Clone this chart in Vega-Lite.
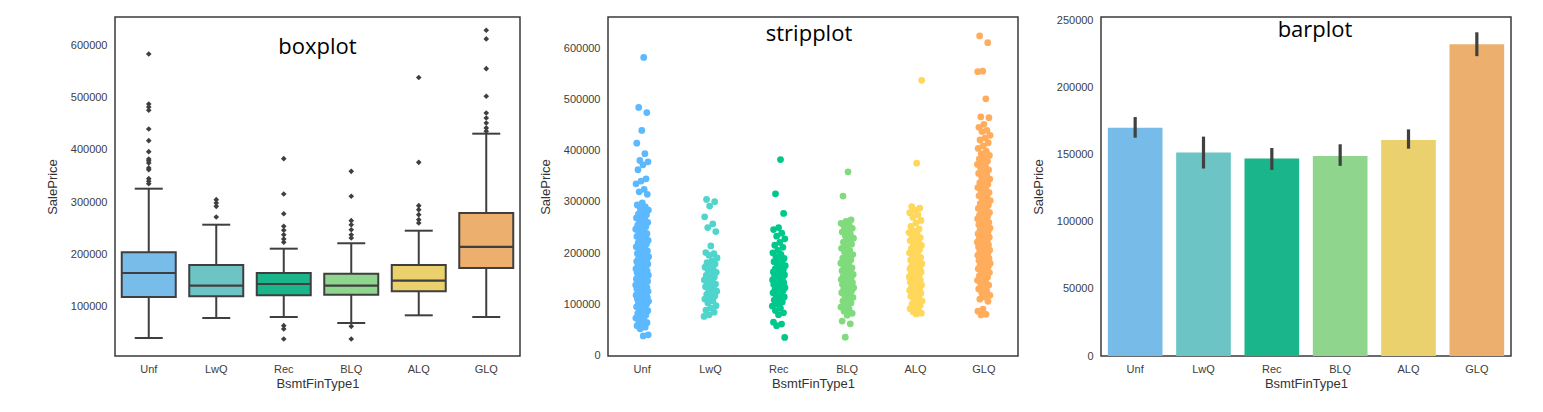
{
"$schema": "https://vega.github.io/schema/vega-lite/v6.json",
"background": "white",
"padding": {"left": 45, "top": 14, "right": 5, "bottom": 5},
"config": {
  "view": {"stroke": "#3a3a3a", "strokeWidth": 1.5},
  "axis": {"grid": false, "ticks": false, "domain": false, "labelFont": "Liberation Sans", "labelFontSize": 11, "labelColor": "#3d3d3d", "titleFont": "Liberation Sans", "titleFontSize": 13, "titleFontWeight": "normal", "titleColor": "#333333", "labelPadding": 8},
  "axisY": {"minExtent": 45, "maxExtent": 45, "titlePadding": 11},
  "axisX": {"labelAngle": 0, "labelPadding": 7, "titlePadding": 3},
  "title": {"font": "Open Sans", "fontSize": 22, "fontWeight": "normal", "color": "#000000", "baseline": "alphabetic", "anchor": "middle"},
  "legend": {"disable": true}
},
"datasets": {
  "box": [
    {"t":"Unf","lo":39300,"q1":117900,"med":164000,"q3":203700,"hi":325700},
    {"t":"LwQ","lo":77600,"q1":119300,"med":139600,"q3":179300,"hi":256600},
    {"t":"Rec","lo":79600,"q1":121200,"med":142900,"q3":164000,"hi":210600},
    {"t":"BLQ","lo":68100,"q1":122300,"med":139600,"q3":162700,"hi":221000},
    {"t":"ALQ","lo":82800,"q1":128900,"med":149200,"q3":179300,"hi":245100},
    {"t":"GLQ","lo":79600,"q1":173500,"med":213900,"q3":279100,"hi":431200}
  ],
  "out": [
    {"t":"Unf","p":584100},{"t":"Unf","p":488200},{"t":"Unf","p":482400},{"t":"Unf","p":476100},{"t":"Unf","p":440200},{"t":"Unf","p":417800},{"t":"Unf","p":396700},{"t":"Unf","p":382700},{"t":"Unf","p":379400},{"t":"Unf","p":375000},{"t":"Unf","p":365500},{"t":"Unf","p":362100},{"t":"Unf","p":344900},{"t":"Unf","p":339900},{"t":"Unf","p":335300},
    {"t":"LwQ","p":304600},{"t":"LwQ","p":298300},{"t":"LwQ","p":291900},{"t":"LwQ","p":271400},
    {"t":"Rec","p":383200},{"t":"Rec","p":315500},{"t":"Rec","p":277700},{"t":"Rec","p":253600},{"t":"Rec","p":245900},{"t":"Rec","p":237400},{"t":"Rec","p":229200},{"t":"Rec","p":222900},{"t":"Rec","p":62900},{"t":"Rec","p":56500},{"t":"Rec","p":37300},
    {"t":"BLQ","p":359000},{"t":"BLQ","p":311100},{"t":"BLQ","p":264300},{"t":"BLQ","p":256600},{"t":"BLQ","p":247000},{"t":"BLQ","p":237400},{"t":"BLQ","p":231100},{"t":"BLQ","p":61700},{"t":"BLQ","p":37300},
    {"t":"ALQ","p":539000},{"t":"ALQ","p":376300},{"t":"ALQ","p":293100},{"t":"ALQ","p":285400},{"t":"ALQ","p":275800},{"t":"ALQ","p":266200},{"t":"ALQ","p":259900},
    {"t":"GLQ","p":629500},{"t":"GLQ","p":612900},{"t":"GLQ","p":555900},{"t":"GLQ","p":502900},{"t":"GLQ","p":470900},{"t":"GLQ","p":461300},{"t":"GLQ","p":451700},{"t":"GLQ","p":442300},{"t":"GLQ","p":436000}
  ],
  "bars": [
    {"t":"Unf","mean":170300,"lo":162800,"hi":178200},
    {"t":"LwQ","mean":151700,"lo":139800,"hi":163600},
    {"t":"Rec","mean":147200,"lo":138800,"hi":155100},
    {"t":"BLQ","mean":149200,"lo":141800,"hi":157900},
    {"t":"ALQ","mean":161100,"lo":154600,"hi":169000},
    {"t":"GLQ","mean":232500,"lo":223600,"hi":241400}
  ],
  "strip": [
    {"t":"Unf","p":582933},{"t":"Unf","p":485000},{"t":"Unf","p":475000},{"t":"Unf","p":440000},{"t":"Unf","p":415000},{"t":"Unf","p":394500},{"t":"Unf","p":381200},{"t":"Unf","p":378500},{"t":"Unf","p":372800},{"t":"Unf","p":363100},{"t":"Unf","p":345400},{"t":"Unf","p":340900},{"t":"Unf","p":335600},{"t":"Unf","p":324700},{"t":"Unf","p":319800},{"t":"Unf","p":314900},
    {"t":"Unf","p":298300},{"t":"Unf","p":294100},{"t":"Unf","p":290600},{"t":"Unf","p":286900},{"t":"Unf","p":284200},{"t":"Unf","p":279800},{"t":"Unf","p":276400},{"t":"Unf","p":274900},{"t":"Unf","p":271100},{"t":"Unf","p":268700},{"t":"Unf","p":266300},{"t":"Unf","p":262400},{"t":"Unf","p":259900},{"t":"Unf","p":256800},{"t":"Unf","p":254500},{"t":"Unf","p":251300},{"t":"Unf","p":249800},
    {"t":"Unf","p":246700},{"t":"Unf","p":243200},{"t":"Unf","p":240400},{"t":"Unf","p":237900},{"t":"Unf","p":235100},{"t":"Unf","p":232600},{"t":"Unf","p":229700},{"t":"Unf","p":227300},{"t":"Unf","p":224600},{"t":"Unf","p":222900},{"t":"Unf","p":219800},{"t":"Unf","p":217200},{"t":"Unf","p":214600},{"t":"Unf","p":212300},{"t":"Unf","p":209900},{"t":"Unf","p":206800},{"t":"Unf","p":204100},{"t":"Unf","p":201700},{"t":"Unf","p":199200},
    {"t":"Unf","p":197400},{"t":"Unf","p":195300},{"t":"Unf","p":192800},{"t":"Unf","p":191200},{"t":"Unf","p":189700},{"t":"Unf","p":187100},{"t":"Unf","p":185800},{"t":"Unf","p":183600},{"t":"Unf","p":181900},{"t":"Unf","p":180300},{"t":"Unf","p":178400},{"t":"Unf","p":176900},{"t":"Unf","p":174600},{"t":"Unf","p":173200},{"t":"Unf","p":171800},{"t":"Unf","p":169300},{"t":"Unf","p":167900},{"t":"Unf","p":166100},{"t":"Unf","p":164700},{"t":"Unf","p":162800},{"t":"Unf","p":161400},{"t":"Unf","p":159600},{"t":"Unf","p":158200},{"t":"Unf","p":156700},{"t":"Unf","p":155300},{"t":"Unf","p":153900},{"t":"Unf","p":152100},{"t":"Unf","p":150800},{"t":"Unf","p":149400},{"t":"Unf","p":147700},
    {"t":"Unf","p":146200},{"t":"Unf","p":144900},{"t":"Unf","p":143300},{"t":"Unf","p":141800},{"t":"Unf","p":140600},{"t":"Unf","p":139100},{"t":"Unf","p":137400},{"t":"Unf","p":135800},{"t":"Unf","p":134600},{"t":"Unf","p":132900},{"t":"Unf","p":131200},{"t":"Unf","p":129800},{"t":"Unf","p":128300},{"t":"Unf","p":126900},{"t":"Unf","p":125100},{"t":"Unf","p":123700},{"t":"Unf","p":122400},{"t":"Unf","p":120800},{"t":"Unf","p":119300},{"t":"Unf","p":117600},{"t":"Unf","p":116200},{"t":"Unf","p":114900},{"t":"Unf","p":113400},{"t":"Unf","p":111800},{"t":"Unf","p":110300},{"t":"Unf","p":108900},{"t":"Unf","p":107200},{"t":"Unf","p":105600},{"t":"Unf","p":103800},{"t":"Unf","p":101900},{"t":"Unf","p":99800},
    {"t":"Unf","p":97300},{"t":"Unf","p":94800},{"t":"Unf","p":92600},{"t":"Unf","p":89900},{"t":"Unf","p":87200},{"t":"Unf","p":84600},{"t":"Unf","p":81800},{"t":"Unf","p":78900},{"t":"Unf","p":75700},{"t":"Unf","p":72800},{"t":"Unf","p":69900},{"t":"Unf","p":66800},{"t":"Unf","p":63900},{"t":"Unf","p":60700},{"t":"Unf","p":57800},{"t":"Unf","p":54900},{"t":"Unf","p":51700},{"t":"Unf","p":40000},{"t":"Unf","p":37900},
    {"t":"LwQ","p":305000},{"t":"LwQ","p":300500},{"t":"LwQ","p":292000},{"t":"LwQ","p":271000},{"t":"LwQ","p":257000},{"t":"LwQ","p":250000},{"t":"LwQ","p":242000},{"t":"LwQ","p":214000},{"t":"LwQ","p":201000},{"t":"LwQ","p":198700},{"t":"LwQ","p":195800},{"t":"LwQ","p":190400},{"t":"LwQ","p":185300},{"t":"LwQ","p":181200},{"t":"LwQ","p":178600},{"t":"LwQ","p":175100},{"t":"LwQ","p":172300},{"t":"LwQ","p":168500},{"t":"LwQ","p":165200},{"t":"LwQ","p":162400},{"t":"LwQ","p":159100},{"t":"LwQ","p":156300},{"t":"LwQ","p":153400},{"t":"LwQ","p":150200},{"t":"LwQ","p":147500},{"t":"LwQ","p":145100},{"t":"LwQ","p":142300},{"t":"LwQ","p":139400},{"t":"LwQ","p":136500},{"t":"LwQ","p":134200},{"t":"LwQ","p":131100},{"t":"LwQ","p":128300},{"t":"LwQ","p":125500},{"t":"LwQ","p":122100},{"t":"LwQ","p":119400},{"t":"LwQ","p":116200},{"t":"LwQ","p":113300},{"t":"LwQ","p":110100},{"t":"LwQ","p":106400},{"t":"LwQ","p":102300},{"t":"LwQ","p":97100},{"t":"LwQ","p":92400},{"t":"LwQ","p":88200},{"t":"LwQ","p":84300},{"t":"LwQ","p":79200},{"t":"LwQ","p":76000},
    {"t":"Rec","p":383000},{"t":"Rec","p":316000},{"t":"Rec","p":277500},{"t":"Rec","p":250000},{"t":"Rec","p":246000},{"t":"Rec","p":239000},{"t":"Rec","p":233000},{"t":"Rec","p":228000},{"t":"Rec","p":221000},{"t":"Rec","p":215300},{"t":"Rec","p":211200},{"t":"Rec","p":205400},{"t":"Rec","p":200500},{"t":"Rec","p":197300},{"t":"Rec","p":193100},{"t":"Rec","p":189400},{"t":"Rec","p":186200},{"t":"Rec","p":183100},{"t":"Rec","p":180400},{"t":"Rec","p":177500},{"t":"Rec","p":175200},{"t":"Rec","p":172100},{"t":"Rec","p":169300},{"t":"Rec","p":167400},{"t":"Rec","p":165100},{"t":"Rec","p":163200},{"t":"Rec","p":161300},{"t":"Rec","p":159400},{"t":"Rec","p":157200},{"t":"Rec","p":155100},{"t":"Rec","p":153300},{"t":"Rec","p":151200},{"t":"Rec","p":149100},{"t":"Rec","p":147300},{"t":"Rec","p":145400},{"t":"Rec","p":143500},{"t":"Rec","p":142100},{"t":"Rec","p":140200},{"t":"Rec","p":138300},{"t":"Rec","p":136100},{"t":"Rec","p":134400},{"t":"Rec","p":132200},{"t":"Rec","p":130300},{"t":"Rec","p":128100},{"t":"Rec","p":126400},{"t":"Rec","p":124200},{"t":"Rec","p":122300},{"t":"Rec","p":120100},{"t":"Rec","p":117400},{"t":"Rec","p":114200},{"t":"Rec","p":111300},{"t":"Rec","p":108100},{"t":"Rec","p":104400},{"t":"Rec","p":100200},{"t":"Rec","p":96300},{"t":"Rec","p":92100},{"t":"Rec","p":87400},{"t":"Rec","p":83200},{"t":"Rec","p":79400},{"t":"Rec","p":64800},{"t":"Rec","p":61000},{"t":"Rec","p":58000},{"t":"Rec","p":35000},
    {"t":"BLQ","p":359000},{"t":"BLQ","p":311500},{"t":"BLQ","p":265000},{"t":"BLQ","p":262100},{"t":"BLQ","p":258300},{"t":"BLQ","p":255200},{"t":"BLQ","p":252400},{"t":"BLQ","p":248500},{"t":"BLQ","p":245100},{"t":"BLQ","p":241300},{"t":"BLQ","p":237200},{"t":"BLQ","p":233400},{"t":"BLQ","p":229100},{"t":"BLQ","p":225300},{"t":"BLQ","p":221200},{"t":"BLQ","p":217400},{"t":"BLQ","p":213100},{"t":"BLQ","p":209300},{"t":"BLQ","p":205200},{"t":"BLQ","p":201400},{"t":"BLQ","p":197100},{"t":"BLQ","p":193500},{"t":"BLQ","p":190200},{"t":"BLQ","p":186400},{"t":"BLQ","p":183100},{"t":"BLQ","p":180300},{"t":"BLQ","p":177200},{"t":"BLQ","p":174400},{"t":"BLQ","p":171100},{"t":"BLQ","p":168300},{"t":"BLQ","p":165200},{"t":"BLQ","p":162400},{"t":"BLQ","p":160100},{"t":"BLQ","p":158300},{"t":"BLQ","p":156200},{"t":"BLQ","p":154400},{"t":"BLQ","p":152100},{"t":"BLQ","p":150300},{"t":"BLQ","p":148200},{"t":"BLQ","p":146400},{"t":"BLQ","p":144100},{"t":"BLQ","p":142300},{"t":"BLQ","p":140200},{"t":"BLQ","p":138400},{"t":"BLQ","p":136100},{"t":"BLQ","p":134300},{"t":"BLQ","p":132200},{"t":"BLQ","p":130400},{"t":"BLQ","p":128100},{"t":"BLQ","p":126300},{"t":"BLQ","p":124200},{"t":"BLQ","p":122400},{"t":"BLQ","p":119100},{"t":"BLQ","p":116300},{"t":"BLQ","p":113200},{"t":"BLQ","p":110400},{"t":"BLQ","p":106100},{"t":"BLQ","p":102300},{"t":"BLQ","p":98200},{"t":"BLQ","p":94400},{"t":"BLQ","p":90100},{"t":"BLQ","p":86300},{"t":"BLQ","p":82200},{"t":"BLQ","p":78400},{"t":"BLQ","p":67000},{"t":"BLQ","p":61500},{"t":"BLQ","p":35500},
    {"t":"ALQ","p":538000},{"t":"ALQ","p":376000},{"t":"ALQ","p":291000},{"t":"ALQ","p":288000},{"t":"ALQ","p":284000},{"t":"ALQ","p":279000},{"t":"ALQ","p":275000},{"t":"ALQ","p":270000},{"t":"ALQ","p":264000},{"t":"ALQ","p":259000},{"t":"ALQ","p":252000},{"t":"ALQ","p":247300},{"t":"ALQ","p":243100},{"t":"ALQ","p":240200},{"t":"ALQ","p":236400},{"t":"ALQ","p":233100},{"t":"ALQ","p":230300},{"t":"ALQ","p":227200},{"t":"ALQ","p":224400},{"t":"ALQ","p":221100},{"t":"ALQ","p":218300},{"t":"ALQ","p":215200},{"t":"ALQ","p":212400},{"t":"ALQ","p":209100},{"t":"ALQ","p":206300},{"t":"ALQ","p":203200},{"t":"ALQ","p":200400},{"t":"ALQ","p":197100},{"t":"ALQ","p":194300},{"t":"ALQ","p":191500},{"t":"ALQ","p":189200},{"t":"ALQ","p":186500},{"t":"ALQ","p":184100},{"t":"ALQ","p":181500},{"t":"ALQ","p":179200},{"t":"ALQ","p":177400},{"t":"ALQ","p":175100},{"t":"ALQ","p":173300},{"t":"ALQ","p":171200},{"t":"ALQ","p":169400},{"t":"ALQ","p":167100},{"t":"ALQ","p":165300},{"t":"ALQ","p":163200},{"t":"ALQ","p":161400},{"t":"ALQ","p":159100},{"t":"ALQ","p":157300},{"t":"ALQ","p":155200},{"t":"ALQ","p":153400},{"t":"ALQ","p":151100},{"t":"ALQ","p":149300},{"t":"ALQ","p":147200},{"t":"ALQ","p":145400},{"t":"ALQ","p":143100},{"t":"ALQ","p":141300},{"t":"ALQ","p":139200},{"t":"ALQ","p":137400},{"t":"ALQ","p":135100},{"t":"ALQ","p":133300},{"t":"ALQ","p":131200},{"t":"ALQ","p":129400},{"t":"ALQ","p":127100},{"t":"ALQ","p":125300},{"t":"ALQ","p":123200},{"t":"ALQ","p":121400},{"t":"ALQ","p":118100},{"t":"ALQ","p":115300},{"t":"ALQ","p":112200},{"t":"ALQ","p":109400},{"t":"ALQ","p":106100},{"t":"ALQ","p":103300},{"t":"ALQ","p":100200},{"t":"ALQ","p":97400},{"t":"ALQ","p":94100},{"t":"ALQ","p":91300},{"t":"ALQ","p":88200},{"t":"ALQ","p":85400},{"t":"ALQ","p":82500},{"t":"ALQ","p":81000},
    {"t":"GLQ","p":625000},{"t":"GLQ","p":611700},{"t":"GLQ","p":556000},{"t":"GLQ","p":555000},{"t":"GLQ","p":501800},{"t":"GLQ","p":466500},{"t":"GLQ","p":465000},{"t":"GLQ","p":451900},{"t":"GLQ","p":446200},{"t":"GLQ","p":440100},{"t":"GLQ","p":437800},{"t":"GLQ","p":430500},{"t":"GLQ","p":425600},{"t":"GLQ","p":421300},{"t":"GLQ","p":415900},{"t":"GLQ","p":409700},{"t":"GLQ","p":404800},{"t":"GLQ","p":399600},{"t":"GLQ","p":394700},{"t":"GLQ","p":391200},{"t":"GLQ","p":387500},{"t":"GLQ","p":384300},{"t":"GLQ","p":379800},{"t":"GLQ","p":376900},{"t":"GLQ","p":373400},{"t":"GLQ","p":369800},{"t":"GLQ","p":366700},{"t":"GLQ","p":362900},{"t":"GLQ","p":359400},{"t":"GLQ","p":355800},{"t":"GLQ","p":352600},{"t":"GLQ","p":348300},{"t":"GLQ","p":344900},{"t":"GLQ","p":341600},{"t":"GLQ","p":337800},{"t":"GLQ","p":334700},{"t":"GLQ","p":331900},{"t":"GLQ","p":328200},{"t":"GLQ","p":324700},{"t":"GLQ","p":321800},{"t":"GLQ","p":318400},{"t":"GLQ","p":315300},{"t":"GLQ","p":312100},{"t":"GLQ","p":308900},{"t":"GLQ","p":305700},{"t":"GLQ","p":302800},{"t":"GLQ","p":299700},{"t":"GLQ","p":296900},{"t":"GLQ","p":293800},{"t":"GLQ","p":290600},{"t":"GLQ","p":287400},{"t":"GLQ","p":284900},{"t":"GLQ","p":281700},{"t":"GLQ","p":279300},{"t":"GLQ","p":276800},{"t":"GLQ","p":274200},{"t":"GLQ","p":271900},{"t":"GLQ","p":269600},{"t":"GLQ","p":267100},{"t":"GLQ","p":264800},{"t":"GLQ","p":262300},{"t":"GLQ","p":260100},{"t":"GLQ","p":257900},{"t":"GLQ","p":255400},{"t":"GLQ","p":253200},{"t":"GLQ","p":250800},{"t":"GLQ","p":248900},{"t":"GLQ","p":246600},{"t":"GLQ","p":244300},{"t":"GLQ","p":242100},{"t":"GLQ","p":239800},{"t":"GLQ","p":237600},{"t":"GLQ","p":235700},{"t":"GLQ","p":233400},{"t":"GLQ","p":231200},{"t":"GLQ","p":229100},{"t":"GLQ","p":227300},{"t":"GLQ","p":225400},{"t":"GLQ","p":223200},{"t":"GLQ","p":221300},{"t":"GLQ","p":219400},{"t":"GLQ","p":217600},{"t":"GLQ","p":215800},{"t":"GLQ","p":213900},{"t":"GLQ","p":211700},{"t":"GLQ","p":209800},{"t":"GLQ","p":207600},{"t":"GLQ","p":205900},{"t":"GLQ","p":203800},{"t":"GLQ","p":201700},{"t":"GLQ","p":199900},{"t":"GLQ","p":197800},{"t":"GLQ","p":195600},{"t":"GLQ","p":193700},{"t":"GLQ","p":191400},{"t":"GLQ","p":189600},{"t":"GLQ","p":187800},{"t":"GLQ","p":185700},{"t":"GLQ","p":183600},{"t":"GLQ","p":181900},{"t":"GLQ","p":179800},{"t":"GLQ","p":177600},{"t":"GLQ","p":175900},{"t":"GLQ","p":173800},{"t":"GLQ","p":171600},{"t":"GLQ","p":169300},{"t":"GLQ","p":166900},{"t":"GLQ","p":164200},{"t":"GLQ","p":161800},{"t":"GLQ","p":158700},{"t":"GLQ","p":155900},{"t":"GLQ","p":152800},{"t":"GLQ","p":149900},{"t":"GLQ","p":146700},{"t":"GLQ","p":143600},{"t":"GLQ","p":140200},{"t":"GLQ","p":137100},{"t":"GLQ","p":133800},{"t":"GLQ","p":129900},{"t":"GLQ","p":125600},{"t":"GLQ","p":121800},{"t":"GLQ","p":117300},{"t":"GLQ","p":113900},{"t":"GLQ","p":109800},{"t":"GLQ","p":105700},{"t":"GLQ","p":90100},{"t":"GLQ","p":86400},{"t":"GLQ","p":80200},{"t":"GLQ","p":79000}
  ]
},
"spacing": 12,
"resolve": {"scale": {"color": "independent", "x": "independent", "y": "independent", "xOffset": "independent"}},
"hconcat": [
  {
    "spacing": 17,
    "resolve": {"scale": {"color": "independent", "x": "independent", "y": "independent", "xOffset": "independent"}},
    "hconcat": [
      {
        "width": 405, "height": 339,
        "title": {"text": "boxplot", "offset": -42},
        "layer": [
          {"data": {"name": "box"}, "mark": {"type": "rule", "color": "#3f3f3f", "strokeWidth": 2},
           "encoding": {
             "x": {"field": "t", "type": "nominal", "sort": ["Unf","LwQ","Rec","BLQ","ALQ","GLQ"], "title": "BsmtFinType1", "scale": {"type": "band", "paddingInner": 0.2, "paddingOuter": 0.1}},
             "y": {"field": "lo", "type": "quantitative", "title": "SalePrice", "scale": {"domain": [4760, 655000], "nice": false, "zero": false}, "axis": {"values": [100000,200000,300000,400000,500000,600000], "format": "d"}},
             "y2": {"field": "q1"}}},
          {"data": {"name": "box"}, "mark": {"type": "rule", "color": "#3f3f3f", "strokeWidth": 2},
           "encoding": {
             "x": {"field": "t", "type": "nominal", "sort": ["Unf","LwQ","Rec","BLQ","ALQ","GLQ"], "title": "BsmtFinType1", "scale": {"type": "band"}},
             "y": {"field": "q3", "type": "quantitative", "title": "SalePrice"},
             "y2": {"field": "hi"}}},
          {"data": {"name": "box"}, "mark": {"type": "bar", "stroke": "#3f3f3f", "strokeWidth": 2},
           "encoding": {
             "x": {"field": "t", "type": "nominal", "sort": ["Unf","LwQ","Rec","BLQ","ALQ","GLQ"], "title": "BsmtFinType1", "scale": {"type": "band"}},
             "y": {"field": "q1", "type": "quantitative", "title": "SalePrice"},
             "y2": {"field": "q3"},
             "color": {"field": "t", "type": "nominal", "legend": null, "scale": {"domain": ["Unf","LwQ","Rec","BLQ","ALQ","GLQ"], "range": ["#78bcea","#6cc5c4","#1ab58a","#90d58e","#ebd06e","#ecaf6e"]}}}},
          {"data": {"name": "box"}, "mark": {"type": "tick", "color": "#3f3f3f", "thickness": 2.2, "size": 54, "opacity": 1},
           "encoding": {
             "x": {"field": "t", "type": "nominal", "sort": ["Unf","LwQ","Rec","BLQ","ALQ","GLQ"], "title": "BsmtFinType1", "scale": {"type": "band"}},
             "y": {"field": "med", "type": "quantitative", "title": "SalePrice"}}},
          {"data": {"name": "box"}, "mark": {"type": "tick", "color": "#3f3f3f", "thickness": 2, "size": 28, "opacity": 1},
           "encoding": {
             "x": {"field": "t", "type": "nominal", "sort": ["Unf","LwQ","Rec","BLQ","ALQ","GLQ"], "title": "BsmtFinType1", "scale": {"type": "band"}},
             "y": {"field": "lo", "type": "quantitative", "title": "SalePrice"}}},
          {"data": {"name": "box"}, "mark": {"type": "tick", "color": "#3f3f3f", "thickness": 2, "size": 28, "opacity": 1},
           "encoding": {
             "x": {"field": "t", "type": "nominal", "sort": ["Unf","LwQ","Rec","BLQ","ALQ","GLQ"], "title": "BsmtFinType1", "scale": {"type": "band"}},
             "y": {"field": "hi", "type": "quantitative", "title": "SalePrice"}}},
          {"data": {"name": "out"}, "mark": {"type": "point", "shape": "diamond", "filled": true, "color": "#3f3f3f", "size": 32, "opacity": 1},
           "encoding": {
             "x": {"field": "t", "type": "nominal", "sort": ["Unf","LwQ","Rec","BLQ","ALQ","GLQ"], "title": "BsmtFinType1", "scale": {"type": "band"}},
             "y": {"field": "p", "type": "quantitative", "title": "SalePrice"}}}
        ]
      },
      {
        "width": 410, "height": 339,
        "title": {"text": "stripplot", "offset": -29, "dx": -4},
        "data": {"name": "strip"},
        "transform": [
          {"window": [{"op": "row_number", "as": "rn"}]},
          {"calculate": "((datum.rn * 0.6180339887) % 1 - 0.5) * 0.24", "as": "jit"}
        ],
        "mark": {"type": "circle", "size": 46, "opacity": 1},
        "encoding": {
          "x": {"field": "t", "type": "nominal", "sort": ["Unf","LwQ","Rec","BLQ","ALQ","GLQ"], "title": "BsmtFinType1", "scale": {"type": "band", "paddingInner": 0.2, "paddingOuter": 0.1}},
          "xOffset": {"field": "jit", "type": "quantitative", "scale": {"domain": [-0.5, 0.5]}},
          "y": {"field": "p", "type": "quantitative", "title": "SalePrice", "scale": {"domain": [-1400, 662000], "nice": false, "zero": false}, "axis": {"values": [0,100000,200000,300000,400000,500000,600000], "format": "d"}},
          "color": {"field": "t", "type": "nominal", "legend": null, "scale": {"domain": ["Unf","LwQ","Rec","BLQ","ALQ","GLQ"], "range": ["#5cb9ff","#50d5cd","#00c88c","#7fdb7c","#ffd75a","#ffad5c"]}}
        }
      }
    ]
  },
  {
    "width": 410, "height": 339,
    "title": {"text": "barplot", "offset": -27, "dx": 9},
    "data": {"name": "bars"},
    "layer": [
      {"mark": {"type": "bar"},
       "encoding": {
         "x": {"field": "t", "type": "nominal", "sort": ["Unf","LwQ","Rec","BLQ","ALQ","GLQ"], "title": "BsmtFinType1", "scale": {"type": "band", "paddingInner": 0.2, "paddingOuter": 0.1}},
         "y": {"field": "mean", "type": "quantitative", "title": "SalePrice", "scale": {"domain": [0, 252800], "nice": false}, "axis": {"values": [0,50000,100000,150000,200000,250000], "format": "d"}},
         "color": {"field": "t", "type": "nominal", "legend": null, "scale": {"domain": ["Unf","LwQ","Rec","BLQ","ALQ","GLQ"], "range": ["#77bbe9","#6cc5c4","#1ab58a","#90d58e","#ebd06e","#ecaf6e"]}}}},
      {"mark": {"type": "rule", "color": "#404040", "strokeWidth": 3.2},
       "encoding": {
         "x": {"field": "t", "type": "nominal", "sort": ["Unf","LwQ","Rec","BLQ","ALQ","GLQ"], "title": "BsmtFinType1", "scale": {"type": "band"}},
         "y": {"field": "lo", "type": "quantitative", "title": "SalePrice"},
         "y2": {"field": "hi"}}}
    ]
  }
]
}
